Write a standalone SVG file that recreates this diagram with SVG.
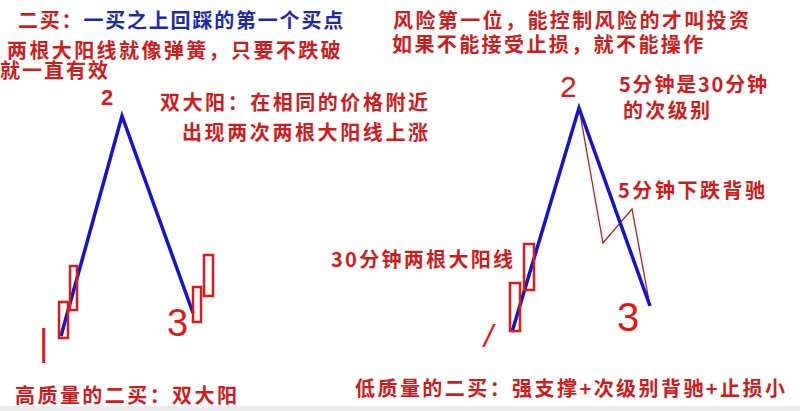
<svg xmlns="http://www.w3.org/2000/svg" width="800" height="411" viewBox="0 0 800 411">
<style>
.t{font-family:"Noto Sans CJK SC","Liberation Sans",sans-serif;font-weight:bold;font-size:20px;fill:#d01c1c}
.b{fill:#1c2aa8}
.n{font-family:"Liberation Sans","DejaVu Sans",sans-serif;fill:#e01818}
.wave{fill:none;stroke:#1414c8;stroke-width:3.5;stroke-linejoin:miter}
.k{fill:none;stroke:#e01818;stroke-width:2.5}
.thin{fill:none;stroke:#b81c1c;stroke-width:1.3}
</style>
<rect width="800" height="411" fill="#ffffff"/>
<rect x="0" y="406" width="800" height="5" fill="#ececec"/>
<g id="texts-top">
<text class="t"><tspan x="18" y="28" letter-spacing="1.8">二买：<tspan class="b">一买之上回踩的第一个买点</tspan></tspan><tspan x="7" y="58" letter-spacing="2.4">两根大阳线就像弹簧，只要不跌破</tspan><tspan x="0" y="78" letter-spacing="2">就一直有效</tspan></text>
<text class="t"><tspan x="393" y="28" letter-spacing="2.4">风险第一位，能控制风险的才叫投资</tspan><tspan x="392" y="52" letter-spacing="2.4">如果不能接受止损，就不能操作</tspan></text>
</g>
<g id="left">
<text class="t" x="160" y="110" textLength="268" lengthAdjust="spacing">双大阳：在相同的价格附近</text>
<text class="t" x="182" y="140" textLength="246" lengthAdjust="spacing">出现两次两根大阳线上涨</text>
<polyline class="wave" points="61,336 122,116 193,313"/>
<rect class="k" x="59" y="302" width="9" height="36"/>
<rect class="k" x="70" y="266" width="7" height="44"/>
<rect class="k" x="193" y="287" width="8" height="35"/>
<rect class="k" x="204" y="255" width="9" height="41"/>
<text class="n" x="101" y="105" font-size="22" font-weight="bold">2</text>
<text class="n" x="39" y="355" font-size="36">|</text>
<text class="n" x="167" y="336" font-size="38">3</text>
<text class="t" x="15" y="403" textLength="222" lengthAdjust="spacing">高质量的二买：双大阳</text>
</g>
<g id="right">
<text class="t" x="619" y="92" textLength="148" lengthAdjust="spacing">5分钟是30分钟</text>
<text class="t" x="623" y="118" textLength="87" lengthAdjust="spacing">的次级别</text>
<text class="t" x="618" y="198" textLength="147" lengthAdjust="spacing">5分钟下跌背驰</text>
<text class="t" x="331" y="267" textLength="182" lengthAdjust="spacing">30分钟两根大阳线</text>
<polyline class="thin" points="579,108 603,243 632,209 650,306"/>
<polyline class="wave" points="512,332 579,108 650,306"/>
<rect class="k" x="510" y="283" width="10" height="48"/>
<rect class="k" x="524" y="244" width="10" height="46"/>
<text class="n" x="560" y="97" font-size="30">2</text>
<text class="n" x="484" y="347" font-size="32" font-style="italic">/</text>
<text class="n" x="617" y="331" font-size="40">3</text>
<text class="t" x="355" y="396" textLength="430" lengthAdjust="spacing">低质量的二买：强支撑+次级别背驰+止损小</text>
</g>
</svg>
